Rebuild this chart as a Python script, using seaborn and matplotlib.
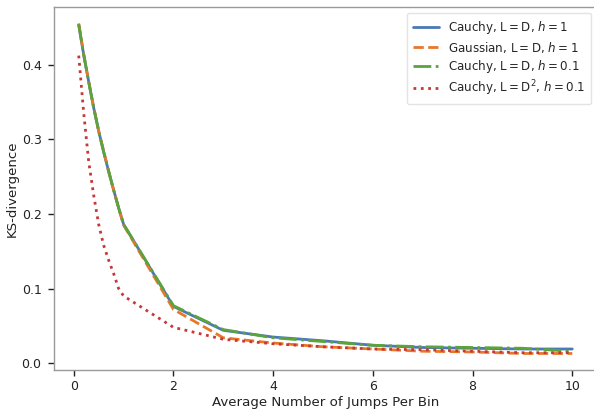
import matplotlib
matplotlib.use("Agg")
import matplotlib.pyplot as plt
import seaborn as sns
import pandas as pd

x_vals = [0.1, 0.2, 0.3, 0.4, 0.5, 0.6, 0.7, 0.8, 0.9, 1.0, 2, 3, 4, 5, 6, 7, 8, 9, 10]

cauchy_h1 = [0.453, 0.413, 0.377, 0.342, 0.311, 0.283, 0.257, 0.232, 0.208, 0.186,
             0.076, 0.044, 0.035, 0.030, 0.024, 0.021, 0.020, 0.019, 0.019]
gauss_h1 = [0.455, 0.414, 0.377, 0.343, 0.311, 0.284, 0.257, 0.232, 0.208, 0.185,
            0.072, 0.034, 0.027, 0.022, 0.019, 0.016, 0.015, 0.013, 0.013]
cauchy_h01 = [0.454, 0.413, 0.377, 0.342, 0.311, 0.283, 0.257, 0.232, 0.208, 0.186,
              0.077, 0.045, 0.034, 0.029, 0.024, 0.022, 0.021, 0.020, 0.016]
cauchy_d2_h01 = [0.412, 0.335, 0.270, 0.225, 0.186, 0.158, 0.138, 0.120, 0.100, 0.090,
                 0.048, 0.032, 0.026, 0.022, 0.019, 0.018, 0.016, 0.014, 0.014]

labels = [r"Cauchy, $\mathrm{L=D}$, $h=1$",
          r"Gaussian, $\mathrm{L=D}$, $h=1$",
          r"Cauchy, $\mathrm{L=D}$, $h=0.1$",
          r"Cauchy, $\mathrm{L=D^2}$, $h=0.1$"]
series = [cauchy_h1, gauss_h1, cauchy_h01, cauchy_d2_h01]
colors = ["#4a78b8", "#e8772a", "#5ba33c", "#c83737"]
styles = ["-", "--", "-.", ":"]

sns.set_theme(style="ticks")
plt.rcParams['font.family'] = ['DejaVu Sans']
plt.rcParams['mathtext.fontset'] = 'dejavusans'

fig = plt.figure(figsize=(5.94, 4.12), dpi=100)
ax = fig.add_axes([0.091, 0.102, 0.914, 0.881])

for lab, ys, c, ls in zip(labels, series, colors, styles):
    df = pd.DataFrame({"x": x_vals, "y": ys})
    sns.lineplot(data=df, x="x", y="y", ax=ax, color=c, linestyle=ls,
                 linewidth=2, label=lab)

ax.set_xlabel("Average Number of Jumps Per Bin", fontsize=9.6, color="#222222", labelpad=2)
ax.set_ylabel("KS-divergence", fontsize=9.6, color="#222222", labelpad=2)
ax.set_xticks([0, 2, 4, 6, 8, 10])
ax.set_yticks([0.0, 0.1, 0.2, 0.3, 0.4])
ax.tick_params(labelsize=9, colors="#222222", length=4, width=1)
ax.tick_params(axis="y", pad=5)
for sp in ax.spines.values():
    sp.set_color("#999999")
    sp.set_linewidth(1)
ax.margins(x=0.05, y=0.05)

leg = ax.legend(loc="upper right", fontsize=8.6, frameon=True, handlelength=2.2,
                borderpad=0.5, labelspacing=0.3, handletextpad=0.7)
leg.get_frame().set_edgecolor("#dddddd")

fig.savefig("out.png", dpi=100)
